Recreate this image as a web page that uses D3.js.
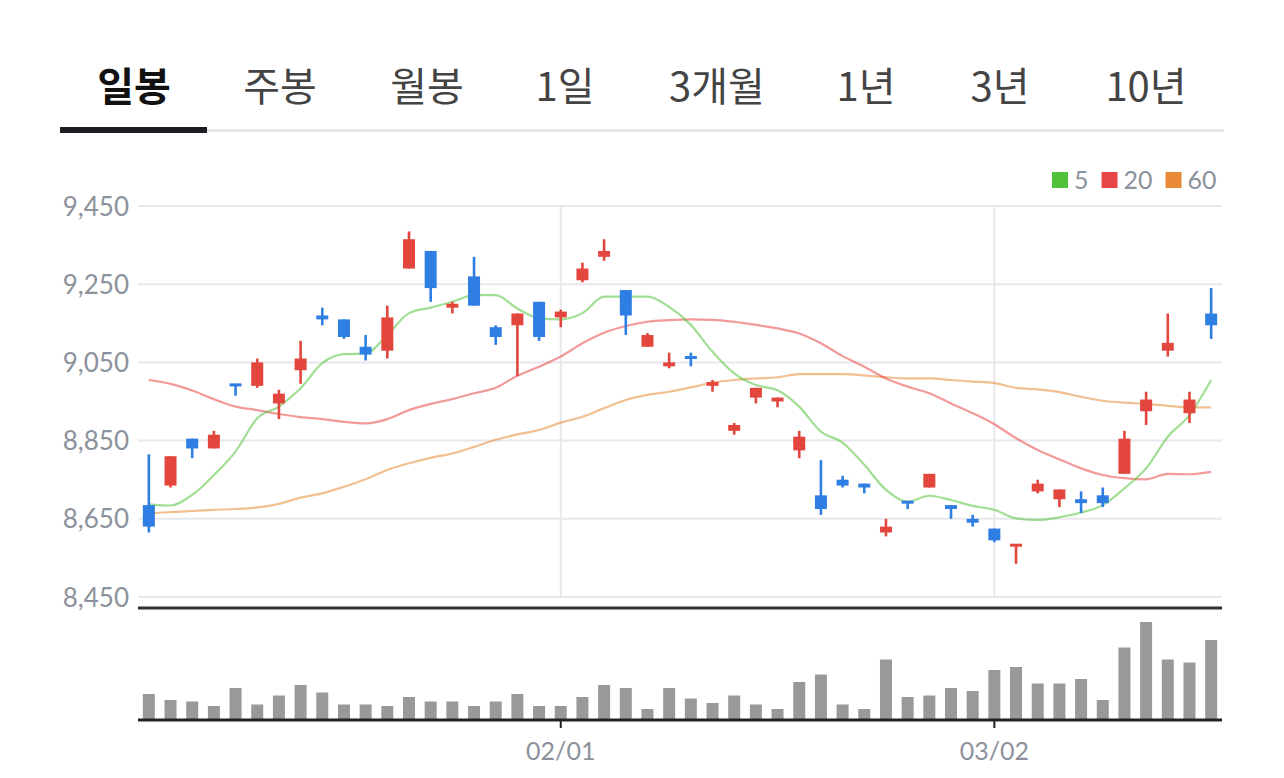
<!DOCTYPE html>
<html><head><meta charset="utf-8">
<script src="https://cdn.jsdelivr.net/npm/d3@7"></script>
<style>
html,body{margin:0;padding:0;background:#fff;}
svg{display:block;}
</style></head>
<body><svg id="c" width="1284" height="778"></svg>
<script>
const tabs = ["일봉","주봉","월봉","1일","3개월","1년","3년","10년"];
const dates = ["01/03","01/04","01/05","01/06","01/09","01/10","01/11","01/12","01/13","01/16",
"01/17","01/18","01/19","01/20","01/25","01/26","01/27","01/30","01/31","02/01",
"02/02","02/03","02/06","02/07","02/08","02/09","02/10","02/13","02/14","02/15",
"02/16","02/17","02/20","02/21","02/22","02/23","02/24","02/27","02/28","03/02",
"03/03","03/06","03/07","03/08","03/09","03/10","03/13","03/14","03/15","03/16"];
const openP  = [8685,8735,8855,8830,8995,8990,8945,9030,9170,9160,9090,9080,9290,9335,9190,9270,9140,9145,9205,9165,
9260,9320,9235,9090,9040,9065,8990,8875,8960,8950,8825,8710,8750,8740,8615,8695,8730,8685,8650,8625,
8580,8720,8700,8700,8710,8765,8925,9080,8920,9175];
const highP  = [8815,8810,8855,8875,8995,9060,8980,9105,9190,9160,9120,9195,9385,9335,9205,9320,9145,9175,9205,9185,
9305,9365,9235,9125,9075,9075,9005,8895,8985,8960,8875,8800,8760,8740,8650,8695,8765,8685,8660,8625,
8585,8750,8725,8720,8730,8875,8975,9175,8975,9240];
const lowP   = [8615,8730,8805,8830,8965,8985,8905,8995,9145,9110,9055,9060,9290,9205,9175,9195,9095,9015,9105,9140,
9255,9310,9120,9090,9035,9040,8975,8865,8945,8935,8805,8660,8730,8715,8605,8675,8730,8650,8630,8590,
8535,8715,8680,8665,8680,8765,8890,9065,8895,9110];
const closeP = [8630,8810,8830,8865,8990,9050,8970,9060,9160,9115,9070,9165,9365,9240,9200,9195,9115,9175,9115,9180,
9290,9335,9170,9120,9050,9060,9000,8890,8985,8960,8860,8675,8735,8730,8630,8690,8765,8675,8640,8595,
8585,8740,8725,8690,8690,8855,8955,9100,8955,9145];
const volume = [52,40,37,28,64,31,49,70,55,31,31,28,46,37,37,28,37,52,28,28,
46,70,64,22,64,43,34,49,31,22,76,91,31,22,121,46,49,64,58,100,
106,73,73,82,40,145,196,121,115,160];
const ma5  = [8687,8684,8711,8762,8822,8907,8937,8984,9048,9071,9073,9120,9176,9190,9205,9222,9222,9188,9163,9160,
9176,9218,9218,9218,9192,9146,9077,9022,8992,8979,8937,8873,8845,8788,8724,8694,8709,8698,8683,8673,
8651,8647,8654,8666,8685,8728,8779,8860,8915,9005];
const ma20 = [9005,8995,8978,8956,8937,8928,8918,8910,8905,8898,8894,8905,8928,8944,8956,8971,8985,9016,9039,9065,
9099,9126,9143,9154,9158,9160,9159,9154,9146,9137,9124,9099,9066,9039,9009,8988,8971,8945,8920,8892,
8856,8826,8802,8779,8762,8754,8751,8765,8764,8770];
const ma60 = [8664,8667,8670,8673,8675,8679,8688,8704,8715,8732,8751,8775,8792,8806,8817,8834,8852,8866,8877,8896,
8911,8933,8954,8967,8975,8986,8998,9005,9009,9012,9020,9020,9020,9017,9012,9009,9009,9005,9001,8997,
8985,8981,8974,8962,8952,8947,8944,8939,8935,8935];
const priceTicks = [8450,8650,8850,9050,9250,9450];
const dateTicks = ["02/01","03/02"];
const legendNames = ["5","20","60"];

const svg = d3.select("#c");
const left = 138, right = 1222;
const colors = {up:"#e2463c", down:"#2f7ee3", vol:"#999999", grid:"#e8e8ec", label:"#8c929b"};
const maColors = ["#52c23a","#e84646","#e88a36"];

// Tabs
const tabX = [134,280,427,565,717,866,1000,1146];
svg.append("g").selectAll("text").data(tabs).join("text")
  .attr("x",(d,i)=>tabX[i]).attr("y",84)
  .attr("text-anchor","middle").attr("dominant-baseline","central")
  .attr("font-family","'Noto Sans CJK KR','Noto Sans',sans-serif")
  .attr("font-size",40)
  .attr("font-weight",(d,i)=>i===0?700:400)
  .attr("fill",(d,i)=>i===0?"#111":"#444")
  .text(d=>d);
svg.append("rect").attr("x",60).attr("y",129).attr("width",1164).attr("height",3).attr("fill","#e6e6e6");
svg.append("rect").attr("x",60).attr("y",127).attr("width",147).attr("height",6).attr("fill","#1c1c22");

// Scales
const x = d3.scaleBand().domain(d3.range(dates.length)).range([left,right]).paddingInner(0).paddingOuter(0);
const cx = i => x(i) + x.bandwidth()/2;
const y = d3.scaleLinear().domain([8450,9450]).range([597,206]);
const yv = d3.scaleLinear().domain([0,220]).range([720,610]);

// Grid
const grid = svg.append("g");
grid.selectAll("line.h").data(priceTicks).join("line").attr("class","h")
  .attr("x1",left).attr("x2",right).attr("y1",d=>y(d)).attr("y2",d=>y(d))
  .attr("stroke",colors.grid).attr("stroke-width",2);
const tickIdx = dateTicks.map(t=>dates.indexOf(t));
grid.selectAll("line.v").data(tickIdx).join("line").attr("class","v")
  .attr("x1",d=>cx(d)).attr("x2",d=>cx(d)).attr("y1",y(9450)).attr("y2",y(8450))
  .attr("stroke",colors.grid).attr("stroke-width",2);

// Y labels
const yAxis = d3.axisLeft(y).tickValues(priceTicks).tickSize(0).tickPadding(0).tickFormat(d3.format(","));
const ya = svg.append("g").attr("transform",`translate(129,0)`).call(yAxis);
ya.select(".domain").remove();
ya.selectAll("text").attr("font-family","Lato,'Noto Sans',sans-serif").attr("font-size",26).attr("fill",colors.label)
  .attr("dy","0.35em");

// Legend
const lg = svg.append("g").attr("transform","translate(0,180)");
let lx = 1052;
legendNames.forEach((n,i)=>{
  lg.append("rect").attr("x",lx).attr("y",-8).attr("width",16).attr("height",16).attr("fill",maColors[i]);
  const t = lg.append("text").attr("x",lx+22).attr("y",0).attr("dy","0.36em")
    .attr("font-family","Lato,'Noto Sans',sans-serif").attr("font-size",25).attr("fill",colors.label).text(n);
  lx += 22 + t.node().getComputedTextLength() + 13;
});

// MA lines
const maData = [ma5, ma20, ma60];
const lineGen = d3.line().x((d,i)=>cx(i)).y(d=>y(d)).curve(d3.curveMonotoneX);
const maG = svg.append("g");
[2,1,0].forEach(k=>{
  maG.append("path").datum(maData[k]).attr("d",lineGen)
    .attr("fill","none").attr("stroke",maColors[k]).attr("stroke-opacity",0.55).attr("stroke-width",2.2);
});

// Candles
const candles = d3.range(dates.length).map(i=>({i,o:openP[i],h:highP[i],l:lowP[i],c:closeP[i],v:volume[i]}));
const cg = svg.append("g");
const bw = 12;
cg.selectAll("line.w").data(candles).join("line").attr("class","w")
  .attr("x1",d=>cx(d.i)).attr("x2",d=>cx(d.i))
  .attr("y1",d=>y(d.h)).attr("y2",d=>y(d.l))
  .attr("stroke",d=>d.c>=d.o?colors.up:colors.down).attr("stroke-width",2.6);
cg.selectAll("rect.b").data(candles).join("rect").attr("class","b")
  .attr("x",d=>cx(d.i)-bw/2).attr("width",bw)
  .attr("y",d=>{const t=y(Math.max(d.o,d.c)),b=y(Math.min(d.o,d.c));return b-t<3?(t+b)/2-1.5:t;})
  .attr("height",d=>Math.max(3,y(Math.min(d.o,d.c))-y(Math.max(d.o,d.c))))
  .attr("fill",d=>d.c>=d.o?colors.up:colors.down);

// Separator
svg.append("line").attr("x1",left).attr("x2",right).attr("y1",608).attr("y2",608).attr("stroke","#333").attr("stroke-width",3);

// Volume
svg.append("g").selectAll("rect").data(candles).join("rect")
  .attr("x",d=>cx(d.i)-bw/2).attr("width",bw)
  .attr("y",d=>yv(d.v)).attr("height",d=>yv(0)-yv(d.v)).attr("fill",colors.vol);

// X axis
const xAxis = d3.axisBottom(x).tickValues(tickIdx).tickSize(8).tickPadding(14).tickFormat(i=>dates[i]);
const xa = svg.append("g").attr("transform","translate(0,720)").call(xAxis);
xa.select(".domain").remove();
xa.selectAll(".tick line").attr("stroke","#222").attr("stroke-width",2);
xa.selectAll("text").attr("font-family","Lato,'Noto Sans',sans-serif").attr("font-size",25).attr("fill",colors.label);
svg.append("line").attr("x1",left).attr("x2",right).attr("y1",720).attr("y2",720).attr("stroke","#222").attr("stroke-width",3);
</script></body></html>
